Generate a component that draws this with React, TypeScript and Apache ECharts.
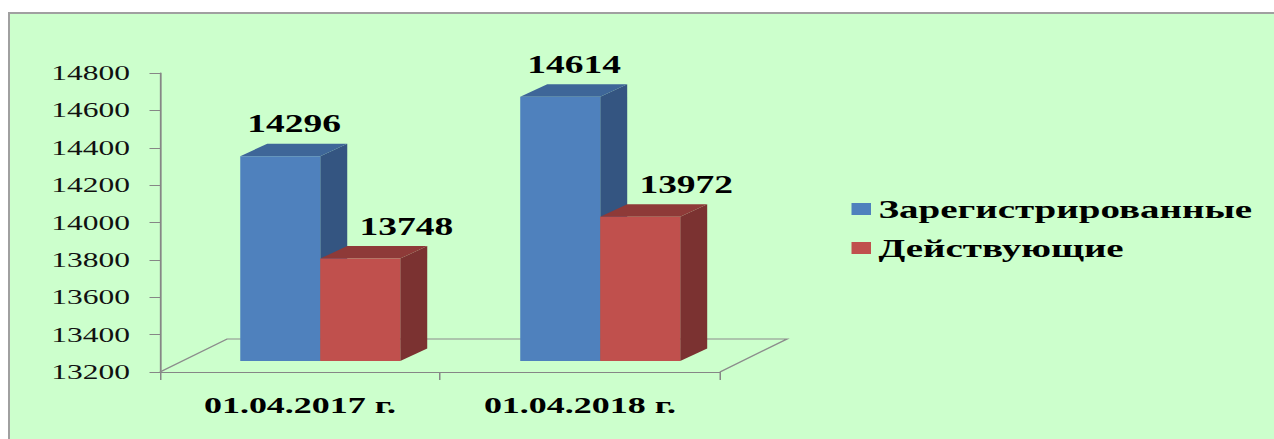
import React, { useEffect, useRef } from "react";
import * as echarts from "echarts";

const categories = ["01.04.2017 г.", "01.04.2018 г."];
const seriesNames = ["Зарегистрированные", "Действующие"];
const registered = [14296, 14614];
const active = [13748, 13972];
const yMin = 13200;
const yMax = 14800;
const yStep = 200;

const STRETCH = 1.5;
const CW = 864;
const CH = 436;
const SERIF = "Liberation Serif";

const faces = [
  { front: "#4F81BD", side: "#345581", top: "#3E6698" },
  { front: "#C0504D", side: "#7B3231", top: "#8E3A38" },
];
const labelShift = [9.3, 30.7];

function makeBar(seriesIndex: number) {
  return (params: any, api: any) => {
    const cat = api.value(0);
    const val = api.value(1);
    const base = api.coord([cat, yMin]);
    const top = api.coord([cat, val]);
    const band = api.size([1, 0])[0];
    const w = band * 0.2857;
    const x0 = base[0] - w + seriesIndex * w + 13.5;
    const yb = base[1] - 11;
    const yt = top[1] - 11;
    const dx = 18;
    const dy = 12.5;
    const f = faces[seriesIndex];
    return {
      type: "group",
      children: [
        {
          type: "polygon",
          shape: { points: [[x0 + w, yt], [x0 + w + dx, yt - dy], [x0 + w + dx, yb - dy], [x0 + w, yb]] },
          style: { fill: f.side },
        },
        {
          type: "polygon",
          shape: { points: [[x0, yt], [x0 + dx, yt - dy], [x0 + w + dx, yt - dy], [x0 + w, yt]] },
          style: { fill: f.top },
        },
        {
          type: "rect",
          shape: { x: x0, y: yt, width: w, height: yb - yt },
          style: { fill: f.front },
        },
        {
          type: "text",
          style: {
            text: String(val),
            x: x0 + w / 2 + labelShift[seriesIndex],
            y: yt - 32,
            fill: "#000",
            fontFamily: SERIF,
            fontWeight: "bold",
            fontSize: 25,
            align: "center",
            verticalAlign: "middle",
          },
        },
      ],
    };
  };
}

function floorRender(params: any, api: any) {
  const band = api.size([1, 0])[0];
  const a = api.coord([0, yMin]);
  const b = api.coord([categories.length - 1, yMin]);
  const left = a[0] - band / 2;
  const right = b[0] + band / 2;
  const y = a[1];
  const ddx = 44.7;
  const ddy = 33;
  return {
    type: "polyline",
    shape: { points: [[left, y], [left + ddx, y - ddy], [right + ddx, y - ddy], [right, y]] },
    style: { stroke: "#8C8C8C", lineWidth: 1.2, fill: null },
  };
}

export default function App() {
  const ref = useRef<HTMLDivElement>(null);
  useEffect(() => {
    if (!ref.current) return;
    const chart = echarts.init(ref.current, undefined, { renderer: "svg" });
    const mk = (arr: number[]) => arr.map((v, i) => [i, v]);
    chart.setOption({
      animation: false,
      backgroundColor: "transparent",
      grid: { left: 100, top: 59, bottom: 78, right: CW - 473.3 },
      legend: {
        data: seriesNames,
        orient: "vertical",
        left: 556,
        top: 177,
        itemWidth: 13,
        itemHeight: 12,
        itemGap: 13,
        icon: "rect",
        textStyle: {
          fontFamily: SERIF,
          fontWeight: "bold",
          fontSize: 26,
          color: "#000",
          lineHeight: 26,
        },
      },
      xAxis: {
        type: "category",
        data: categories,
        axisLine: { lineStyle: { color: "#868686", width: 1.2 } },
        axisTick: { show: true, length: 8, lineStyle: { color: "#868686" } },
        axisLabel: {
          fontFamily: SERIF,
          fontWeight: "bold",
          fontSize: 24,
          color: "#000",
          margin: 21,
        },
        splitLine: { show: false },
      },
      yAxis: {
        type: "value",
        min: yMin,
        max: yMax,
        interval: yStep,
        axisLine: { show: true, lineStyle: { color: "#868686", width: 1.2 } },
        axisTick: { show: true, length: 7, lineStyle: { color: "#868686" } },
        axisLabel: {
          fontFamily: SERIF,
          fontSize: 21,
          color: "#111",
          margin: 20,
          formatter: (v: number) => String(v),
        },
        splitLine: { show: false },
      },
      series: [
        {
          type: "custom",
          name: "floor",
          silent: true,
          z: 1,
          data: [[0, yMin]],
          encode: { x: 0, y: 1 },
          renderItem: floorRender,
        },
        {
          type: "custom",
          name: seriesNames[0],
          z: 2,
          data: mk(registered),
          encode: { x: 0, y: 1 },
          itemStyle: { color: faces[0].front },
          renderItem: makeBar(0),
        },
        {
          type: "custom",
          name: seriesNames[1],
          z: 3,
          data: mk(active),
          encode: { x: 0, y: 1 },
          itemStyle: { color: faces[1].front },
          renderItem: makeBar(1),
        },
      ],
    });
    return () => chart.dispose();
  }, []);

  return (
    <div
      style={{
        position: "fixed",
        left: 0,
        top: 0,
        width: 1274,
        height: 439,
        overflow: "hidden",
        background: "#fff",
      }}
    >
      <div
        style={{
          position: "absolute",
          left: 8,
          top: 12,
          width: CW * STRETCH,
          height: CH,
          border: "2px solid #A0A0A0",
          background: "#CCFFCC",
          overflow: "hidden",
        }}
      >
        <div
          ref={ref}
          style={{
            position: "absolute",
            left: 0,
            top: 0,
            width: CW,
            height: CH,
            transform: `scaleX(${STRETCH})`,
            transformOrigin: "0 0",
          }}
        />
      </div>
    </div>
  );
}
